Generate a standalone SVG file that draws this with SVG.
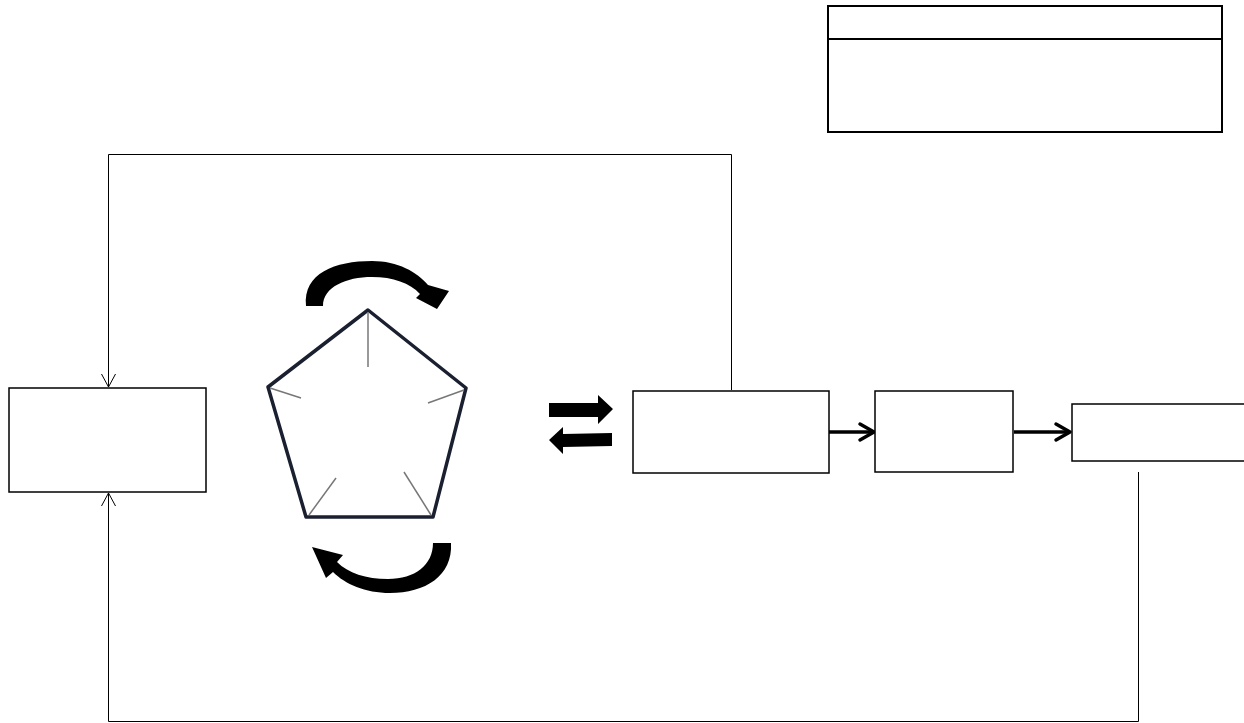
<svg xmlns="http://www.w3.org/2000/svg" width="1244" height="723" viewBox="0 0 1244 723">
<defs>
<style>
.box{fill:#fff;stroke:#000;stroke-width:1.5}
.conn{fill:none;stroke:#000;stroke-width:1}
.thick{fill:none;stroke:#000;stroke-width:3.5}
.tick{stroke:#777;stroke-width:1.5}
.blk{fill:#000}
</style>
<marker id="open" markerWidth="16" markerHeight="16" refX="14" refY="8" orient="auto" markerUnits="userSpaceOnUse">
<path d="M1,1 L14,8 L1,15" fill="none" stroke="#000" stroke-width="1"/>
</marker>
<marker id="chev" markerWidth="24" markerHeight="24" refX="19" refY="12" orient="auto" markerUnits="userSpaceOnUse">
<path d="M5,4 L19,12 L5,20" fill="none" stroke="#000" stroke-width="3.5" stroke-linecap="round" stroke-linejoin="round"/>
</marker>
</defs>
<rect width="1244" height="723" fill="#fff"/>
<g id="connectors">
<polyline class="conn" points="731.5,390 731.5,154.5 108.5,154.5 108.5,387" marker-end="url(#open)"/>
<polyline class="conn" points="1138.5,472 1138.5,721.5 108.5,721.5 108.5,493" marker-end="url(#open)"/>
<line class="thick" x1="829" y1="432" x2="874" y2="432" marker-end="url(#chev)"/>
<line class="thick" x1="1014" y1="432" x2="1070" y2="432" marker-end="url(#chev)"/>
</g>
<g id="legend">
<rect x="828" y="6" width="394" height="126" fill="none" stroke="#000" stroke-width="2"/>
<line x1="827" y1="39" x2="1222" y2="39" stroke="#000" stroke-width="2"/>
</g>
<g id="node-left"><rect class="box" x="9" y="388" width="197" height="104"/></g>
<g id="pentagon">
<polygon points="368,310 466,388 433,517 306,517 268,387" fill="#fff" stroke="#1a2030" stroke-width="3.5" stroke-linejoin="round"/>
<line class="tick" x1="368" y1="312" x2="368" y2="367"/>
<line class="tick" x1="270" y1="388" x2="301" y2="398"/>
<line class="tick" x1="464" y1="390" x2="428" y2="403"/>
<line class="tick" x1="309" y1="515" x2="336" y2="478"/>
<line class="tick" x1="431" y1="515" x2="404" y2="472"/>
</g>
<g id="rotate-top">
<path class="blk" d="M306,306 C303,273 335,261 372,261 C398,261 417,272 428,285 L449,291 L437,309 L416,298 L420,294 C410,283 393,277 372,277 C346,277 323,287 323,306 Z"/>
</g>
<g id="rotate-bottom">
<path class="blk" d="M451,543 C453,576 425,593 390,593 C365,593 345,584 333,572 L326,578 L312,547 L343,555 L337,562 C348,573 366,579 388,579 C415,579 433,565 433,543 Z"/>
</g>
<g id="exchange">
<path class="blk" d="M549,403 L598,403 L598,395 L613,409 L598,424 L598,417 L549,417 Z"/>
<path class="blk" d="M612,433 L563,434 L563,427 L549,440 L563,454 L563,447 L612,446 Z"/>
</g>
<g id="node-2"><rect class="box" x="633" y="391" width="196" height="82"/></g>
<g id="node-3"><rect class="box" x="875" y="391" width="138" height="81"/></g>
<g id="node-4"><rect class="box" x="1072" y="404" width="180" height="57"/></g>
</svg>
